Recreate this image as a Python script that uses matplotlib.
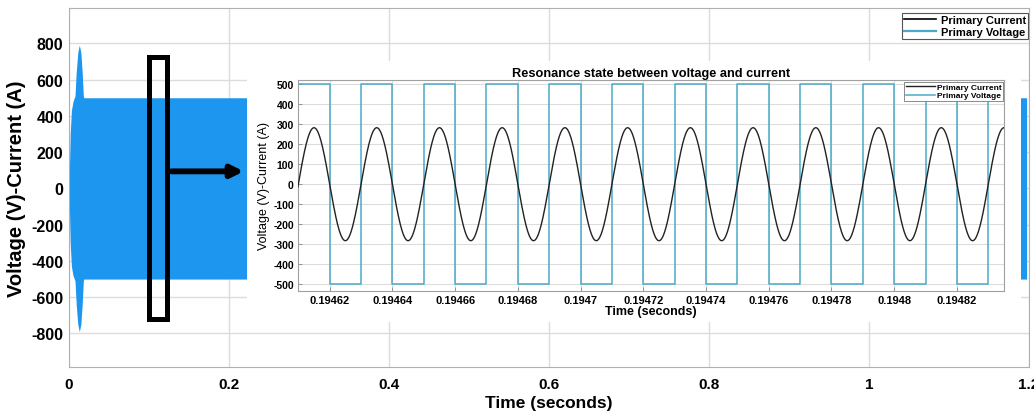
import matplotlib
matplotlib.use('Agg')
import matplotlib.pyplot as plt
import numpy as np
from matplotlib.lines import Line2D
from matplotlib.patches import Rectangle

# main view: envelope of the primary voltage/current trace (seconds, amplitude)
env_t = [0.0, 0.0015, 0.003, 0.005, 0.0075, 0.009, 0.011, 0.0129, 0.0148, 0.0165, 0.0179, 0.0185, 1.197]
env_amp = [0, 300, 430, 480, 510, 640, 750, 790, 750, 640, 510, 500, 500]

main_xticks = [0, 0.2, 0.4, 0.6, 0.8, 1.0, 1.2]
main_xlabels = ['0', '0.2', '0.4', '0.6', '0.8', '1', '1.2']
main_yticks = [-800, -600, -400, -200, 0, 200, 400, 600, 800]

# zoomed view: square voltage (step points) and sinusoidal current
volt_t = [0.19461, 0.19462, 0.19463, 0.19464, 0.19465, 0.19466, 0.19467, 0.19468,
          0.19469, 0.19470, 0.19471, 0.19472, 0.19473, 0.19474, 0.19475, 0.19476,
          0.19477, 0.19478, 0.19479, 0.19480, 0.19481, 0.19482, 0.19483, 0.194836]
volt_v = [500, -500, 500, -500, 500, -500, 500, -500, 500, -500, 500, -500,
          500, -500, 500, -500, 500, -500, 500, -500, 500, -500, 500, 500]

cur_peak = 283          # A
cur_period = 2e-5       # s (50 kHz)
cur_t0 = 0.19461        # upward zero crossing

inset_xticks = [0.19462, 0.19464, 0.19466, 0.19468, 0.19470, 0.19472,
                0.19474, 0.19476, 0.19478, 0.19480, 0.19482]
inset_xlabels = ['0.19462', '0.19464', '0.19466', '0.19468', '0.1947', '0.19472',
                 '0.19474', '0.19476', '0.19478', '0.1948', '0.19482']
inset_yticks = [-500, -400, -300, -200, -100, 0, 100, 200, 300, 400, 500]

BLUE = '#1c96ef'
TEAL = '#4aa9c8'
GRID = '#dcdcdc'
SANS = ['Liberation Sans', 'DejaVu Sans']

fig = plt.figure(figsize=(10.34, 4.14), dpi=100)
ax = fig.add_axes([69 / 1034, 46 / 414, 960 / 1034, 359 / 414])

env_t = np.array(env_t)
env_amp = np.array(env_amp)
ax.fill_between(env_t, -env_amp, env_amp, color=BLUE, linewidth=0, zorder=2)
ax.set_xlim(0, 1.2)
ax.set_ylim(-985, 995)
ax.set_xticks(main_xticks)
ax.set_xticklabels(main_xlabels, family=SANS, fontsize=11, fontweight='bold')
ax.set_yticks(main_yticks)
ax.set_yticklabels([str(v) for v in main_yticks], family=SANS, fontsize=11.5, fontweight='bold')
ax.tick_params(axis='y', length=0, pad=4)
ax.tick_params(axis='x', length=0, pad=7)
ax.grid(True, color=GRID, linewidth=1)
ax.set_axisbelow(True)
for s in ax.spines.values():
    s.set_color('#b0b0b0')
ax.set_xlabel('Time (seconds)', family=SANS, fontsize=12.5, fontweight='bold', labelpad=3)
ax.set_ylabel('Voltage (V)-Current (A)', family=SANS, fontsize=14.5, fontweight='bold', labelpad=4)

leg = ax.legend(handles=[Line2D([], [], color='black', lw=1.2),
                         Line2D([], [], color=TEAL, lw=1.6)],
                labels=['Primary Current', 'Primary Voltage'],
                loc='upper right', bbox_to_anchor=(0.999, 0.987), borderaxespad=0,
                prop={'family': SANS, 'weight': 'bold', 'size': 8},
                fancybox=False, framealpha=1, edgecolor='#555555',
                handlelength=2.9, handletextpad=0.4, labelspacing=0.15, borderpad=0.2)
leg.get_frame().set_linewidth(0.8)

# zoom marker and arrow
ax.add_patch(Rectangle((0.1, -720), 0.023, 1445, fill=False, edgecolor='black', lw=3.6, zorder=4))
ax.annotate('', xy=(0.2185, 94), xytext=(0.128, 94),
            arrowprops=dict(arrowstyle='-|>,head_length=0.7,head_width=0.35', color='black',
                            lw=4.2, shrinkA=0, shrinkB=0), zorder=4)

# white backing behind the inset picture
fig.add_artist(Rectangle((247 / 1034, (414 - 323) / 414), 774 / 1034, 261 / 414,
                         transform=fig.transFigure, facecolor='white', edgecolor='none', zorder=1))

ins = fig.add_axes([298 / 1034, (414 - 292) / 414, 706 / 1034, 211 / 414], zorder=2)
ins.plot(volt_t, volt_v, drawstyle='steps-post', color=TEAL, lw=1.1, label='Primary Voltage', zorder=2)
tt = np.linspace(0.19460, 0.194836, 3000)
ins.plot(tt, cur_peak * np.sin(2 * np.pi * (tt - cur_t0) / cur_period), color='#222222', lw=1.0,
         label='Primary Current', zorder=3)
ins.set_xlim(0.1946099, 0.194835)
ins.set_ylim(-535, 522)
ins.set_xticks(inset_xticks)
ins.set_xticklabels(inset_xlabels, family=SANS, fontsize=8, fontweight='bold')
ins.set_yticks(inset_yticks)
ins.set_yticklabels([str(v) for v in inset_yticks], family=SANS, fontsize=7.5, fontweight='bold')
ins.tick_params(direction='in', length=3, width=0.6, color='#888888', pad=3)
ins.grid(True, color=GRID, linewidth=0.8)
ins.set_axisbelow(True)
for s in ins.spines.values():
    s.set_color('#a0a0a0')
ins.set_title('Resonance state between voltage and current', family=SANS, fontsize=9.2,
              fontweight='bold', pad=3)
ins.set_xlabel('Time (seconds)', family=SANS, fontsize=9, fontweight='bold', labelpad=0)
ins.set_ylabel('Voltage (V)-Current (A)', family=SANS, fontsize=9, labelpad=2)
h, l = ins.get_legend_handles_labels()
ileg = ins.legend(h[::-1], l[::-1], loc='upper right', bbox_to_anchor=(0.999, 0.99), borderaxespad=0,
                  prop={'family': SANS, 'weight': 'bold', 'size': 6},
                  fancybox=False, framealpha=1, edgecolor='#777777',
                  handlelength=3.5, handletextpad=0.3, labelspacing=0.05, borderpad=0.15)
ileg.get_frame().set_linewidth(0.6)

fig.savefig('out.png', dpi=100)
